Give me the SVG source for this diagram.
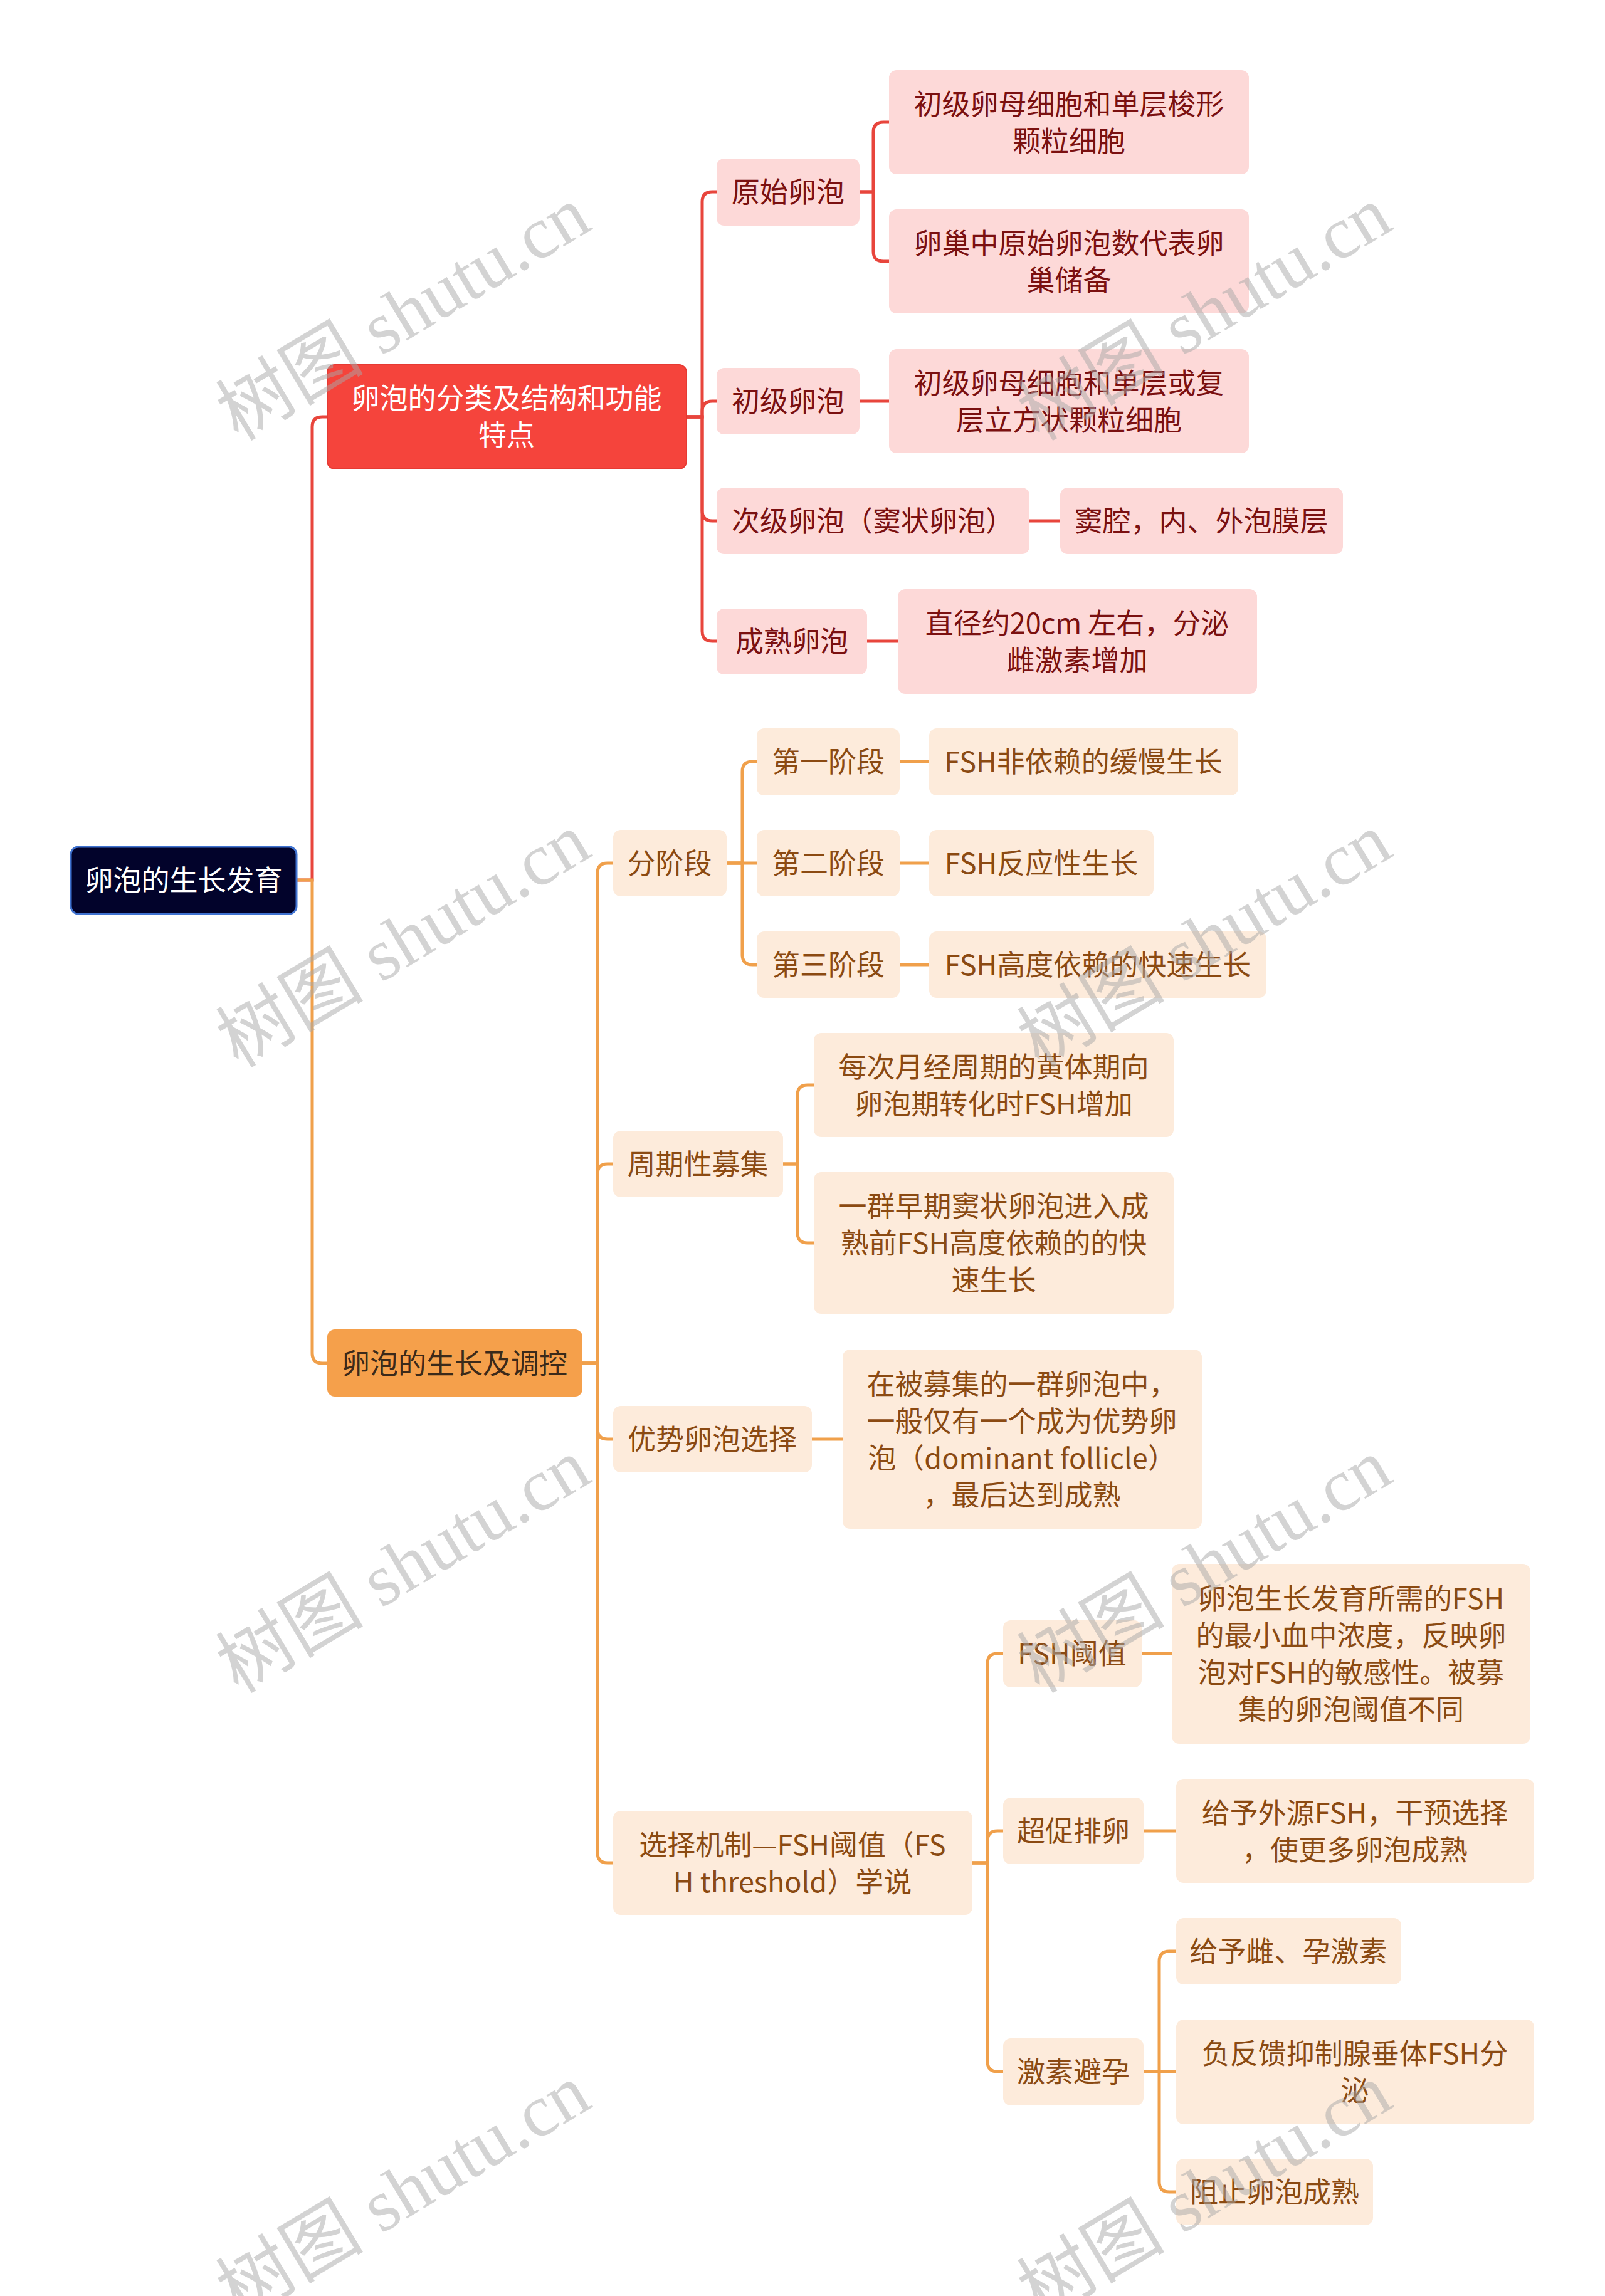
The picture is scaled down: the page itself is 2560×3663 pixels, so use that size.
<svg xmlns="http://www.w3.org/2000/svg" width="2560" height="3663" viewBox="0 0 2560 3663">
<style>
text{font-family:"Noto Sans CJK SC","Liberation Sans",sans-serif;font-size:45px;text-anchor:middle}
.root rect{fill:#02032b;stroke:#3f72d0;stroke-width:3}
.root text{fill:#ffffff}
.r1 rect{fill:#f5443c;stroke:#e63a33;stroke-width:2}
.r1 text{fill:#ffffff}
.r2 rect{fill:#fdd9d8}
.r2 text{fill:#7b1010}
.o1 rect{fill:#f5a04b}
.o1 text{fill:#3b2a1a}
.o2 rect{fill:#fdebdb}
.o2 text{fill:#8b4a12}
.cr path{fill:none;stroke:#e8453c;stroke-width:5}
.co path{fill:none;stroke:#f0a04b;stroke-width:5}
.wm text{font-family:"Liberation Serif","Noto Sans CJK SC",serif;font-size:118px;fill:#a8a8a8;opacity:0.5;text-anchor:start}
</style>
<rect x="0" y="0" width="2560" height="3663" fill="#ffffff"/>
<g id="connectors">
<g class="cr">
<path d="M473,1404 H498 V681 Q498,665 514,665 H522"/>
<path d="M1095,665 H1120 V322 Q1120,306 1136,306 H1143"/>
<path d="M1095,665 H1120 V656 Q1120,640 1136,640 H1143"/>
<path d="M1095,665 H1120 V815 Q1120,831 1136,831 H1143"/>
<path d="M1095,665 H1120 V1007 Q1120,1023 1136,1023 H1143"/>
<path d="M1371,306 H1393 V211 Q1393,195 1409,195 H1418"/>
<path d="M1371,306 H1393 V401 Q1393,417 1409,417 H1418"/>
<path d="M1371,640 H1418"/>
<path d="M1642,831 H1691"/>
<path d="M1383,1023 H1432"/>
</g>
<g class="co">
<path d="M473,1404 H498 V2159 Q498,2175 514,2175 H522"/>
<path d="M929,2175 H953 V1393 Q953,1377 969,1377 H978"/>
<path d="M929,2175 H953 V1873 Q953,1857 969,1857 H978"/>
<path d="M929,2175 H953 V2280 Q953,2296 969,2296 H978"/>
<path d="M929,2175 H953 V2956 Q953,2972 969,2972 H978"/>
<path d="M1159,1377 H1184 V1231 Q1184,1215 1200,1215 H1207"/>
<path d="M1159,1377 H1207"/>
<path d="M1159,1377 H1184 V1523 Q1184,1539 1200,1539 H1207"/>
<path d="M1435,1215 H1482"/>
<path d="M1435,1377 H1482"/>
<path d="M1435,1539 H1482"/>
<path d="M1249,1857 H1272 V1747 Q1272,1731 1288,1731 H1298"/>
<path d="M1249,1857 H1272 V1967 Q1272,1983 1288,1983 H1298"/>
<path d="M1295,2296 H1344"/>
<path d="M1551,2972 H1575 V2654 Q1575,2638 1591,2638 H1600"/>
<path d="M1551,2972 H1575 V2937 Q1575,2921 1591,2921 H1600"/>
<path d="M1551,2972 H1575 V3289 Q1575,3305 1591,3305 H1600"/>
<path d="M1821,2638 H1869"/>
<path d="M1824,2921 H1876"/>
<path d="M1824,3305 H1849 V3129 Q1849,3113 1865,3113 H1876"/>
<path d="M1824,3305 H1876"/>
<path d="M1824,3305 H1849 V3481 Q1849,3497 1865,3497 H1876"/>
</g>
</g>
<g id="n-root" class="root"><rect x="113" y="1351" width="360" height="107" rx="12"/><text x="293" y="1421">卵泡的生长发育</text></g>
<g id="n-red1" class="r1"><rect x="522" y="582" width="573" height="166" rx="12"/><text x="808" y="652">卵泡的分类及结构和功能</text><text x="808" y="711">特点</text></g>
<g id="n-yuanshi" class="r2"><rect x="1143" y="253" width="228" height="107" rx="12"/><text x="1257" y="323">原始卵泡</text></g>
<g id="n-ys1" class="r2"><rect x="1418" y="112" width="574" height="166" rx="12"/><text x="1705" y="183">初级卵母细胞和单层梭形</text><text x="1705" y="242">颗粒细胞</text></g>
<g id="n-ys2" class="r2"><rect x="1418" y="334" width="574" height="166" rx="12"/><text x="1705" y="405">卵巢中原始卵泡数代表卵</text><text x="1705" y="464">巢储备</text></g>
<g id="n-chuji" class="r2"><rect x="1143" y="587" width="228" height="106" rx="12"/><text x="1257" y="657">初级卵泡</text></g>
<g id="n-cj1" class="r2"><rect x="1418" y="557" width="574" height="166" rx="12"/><text x="1705" y="628">初级卵母细胞和单层或复</text><text x="1705" y="687">层立方状颗粒细胞</text></g>
<g id="n-ciji" class="r2"><rect x="1143" y="778" width="499" height="106" rx="12"/><text x="1392" y="848">次级卵泡（窦状卵泡）</text></g>
<g id="n-cij1" class="r2"><rect x="1691" y="778" width="451" height="106" rx="12"/><text x="1916" y="848">窦腔，内、外泡膜层</text></g>
<g id="n-chengshu" class="r2"><rect x="1143" y="971" width="240" height="105" rx="12"/><text x="1263" y="1040">成熟卵泡</text></g>
<g id="n-cs1" class="r2"><rect x="1432" y="940" width="573" height="167" rx="12"/><text x="1718" y="1011">直径约20cm 左右，分泌</text><text x="1718" y="1070">雌激素增加</text></g>
<g id="n-orange1" class="o1"><rect x="522" y="2121" width="407" height="107" rx="12"/><text x="725" y="2192">卵泡的生长及调控</text></g>
<g id="n-fenjieduan" class="o2"><rect x="978" y="1324" width="181" height="106" rx="12"/><text x="1068" y="1394">分阶段</text></g>
<g id="n-jd1" class="o2"><rect x="1207" y="1162" width="228" height="107" rx="12"/><text x="1321" y="1232">第一阶段</text></g>
<g id="n-jd1c" class="o2"><rect x="1482" y="1162" width="493" height="107" rx="12"/><text x="1728" y="1232">FSH非依赖的缓慢生长</text></g>
<g id="n-jd2" class="o2"><rect x="1207" y="1324" width="228" height="106" rx="12"/><text x="1321" y="1394">第二阶段</text></g>
<g id="n-jd2c" class="o2"><rect x="1482" y="1324" width="358" height="106" rx="12"/><text x="1661" y="1394">FSH反应性生长</text></g>
<g id="n-jd3" class="o2"><rect x="1207" y="1486" width="228" height="106" rx="12"/><text x="1321" y="1556">第三阶段</text></g>
<g id="n-jd3c" class="o2"><rect x="1482" y="1486" width="538" height="106" rx="12"/><text x="1751" y="1556">FSH高度依赖的快速生长</text></g>
<g id="n-zhouqi" class="o2"><rect x="978" y="1804" width="271" height="106" rx="12"/><text x="1113" y="1874">周期性募集</text></g>
<g id="n-zq1" class="o2"><rect x="1298" y="1648" width="574" height="166" rx="12"/><text x="1585" y="1719">每次月经周期的黄体期向</text><text x="1585" y="1778">卵泡期转化时FSH增加</text></g>
<g id="n-zq2" class="o2"><rect x="1298" y="1870" width="574" height="226" rx="12"/><text x="1585" y="1941">一群早期窦状卵泡进入成</text><text x="1585" y="2000">熟前FSH高度依赖的的快</text><text x="1585" y="2059">速生长</text></g>
<g id="n-youshi" class="o2"><rect x="978" y="2243" width="317" height="106" rx="12"/><text x="1136" y="2313">优势卵泡选择</text></g>
<g id="n-ys" class="o2"><rect x="1344" y="2153" width="573" height="286" rx="12"/><text x="1630" y="2225">在被募集的一群卵泡中，</text><text x="1630" y="2284">一般仅有一个成为优势卵</text><text x="1630" y="2343">泡（dominant follicle）</text><text x="1630" y="2402">，最后达到成熟</text></g>
<g id="n-xuanze" class="o2"><rect x="978" y="2889" width="573" height="166" rx="12"/><text x="1264" y="2960">选择机制—FSH阈值（FS</text><text x="1264" y="3019">H threshold）学说</text></g>
<g id="n-fsh" class="o2"><rect x="1600" y="2585" width="221" height="107" rx="12"/><text x="1710" y="2655">FSH阈值</text></g>
<g id="n-fshc" class="o2"><rect x="1869" y="2495" width="572" height="287" rx="12"/><text x="2155" y="2567">卵泡生长发育所需的FSH</text><text x="2155" y="2626">的最小血中浓度，反映卵</text><text x="2155" y="2685">泡对FSH的敏感性。被募</text><text x="2155" y="2744">集的卵泡阈值不同</text></g>
<g id="n-chaocu" class="o2"><rect x="1600" y="2868" width="224" height="106" rx="12"/><text x="1712" y="2938">超促排卵</text></g>
<g id="n-chaocuc" class="o2"><rect x="1876" y="2838" width="571" height="166" rx="12"/><text x="2161" y="2909">给予外源FSH，干预选择</text><text x="2161" y="2968">，使更多卵泡成熟</text></g>
<g id="n-jisu" class="o2"><rect x="1600" y="3252" width="224" height="107" rx="12"/><text x="1712" y="3322">激素避孕</text></g>
<g id="n-js1" class="o2"><rect x="1876" y="3060" width="359" height="106" rx="12"/><text x="2055" y="3130">给予雌、孕激素</text></g>
<g id="n-js2" class="o2"><rect x="1876" y="3222" width="571" height="167" rx="12"/><text x="2161" y="3293">负反馈抑制腺垂体FSH分</text><text x="2161" y="3352">泌</text></g>
<g id="n-js3" class="o2"><rect x="1876" y="3444" width="314" height="106" rx="12"/><text x="2033" y="3514">阻止卵泡成熟</text></g>
<g id="watermarks" class="wm">
<text transform="translate(380,705) rotate(-31)">树图 shutu.cn</text>
<text transform="translate(1658,705) rotate(-31)">树图 shutu.cn</text>
<text transform="translate(380,1705) rotate(-31)">树图 shutu.cn</text>
<text transform="translate(1658,1705) rotate(-31)">树图 shutu.cn</text>
<text transform="translate(380,2703) rotate(-31)">树图 shutu.cn</text>
<text transform="translate(1658,2703) rotate(-31)">树图 shutu.cn</text>
<text transform="translate(380,3701) rotate(-31)">树图 shutu.cn</text>
<text transform="translate(1658,3701) rotate(-31)">树图 shutu.cn</text>
</g>
</svg>
